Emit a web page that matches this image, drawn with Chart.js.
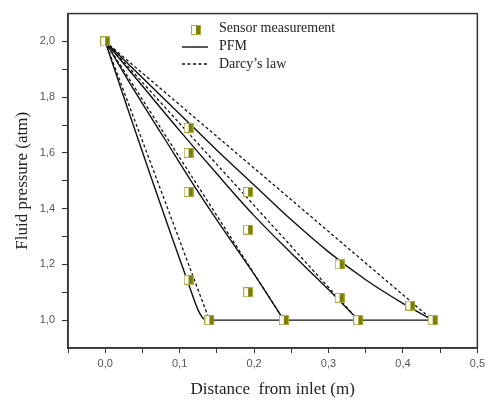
<!DOCTYPE html>
<html>
<head>
<meta charset="utf-8">
<script src="https://cdn.jsdelivr.net/npm/chart.js@4.4.0/dist/chart.umd.min.js"></script>
<style>
  body { margin: 0; background: #fff; }
</style>
</head>
<body>
<canvas id="c" width="489" height="401"></canvas>
<script>
// sensor readings (distance m, pressure atm)
var sensorDist = [0, 0.112, 0.112, 0.112, 0.112, 0.192, 0.192, 0.192, 0.315, 0.315, 0.41, 0.14, 0.24, 0.34, 0.44];
var sensorPress = [2.0, 1.69, 1.60, 1.46, 1.145, 1.46, 1.325, 1.10, 1.20, 1.08, 1.052, 1.0, 1.0, 1.0, 1.0];

// PFM curves
var pfmDist1 = [0, 0.03, 0.06, 0.09, 0.11, 0.125, 0.131, 0.137, 0.44];
var pfmPress1 = [2.0, 1.76, 1.525, 1.295, 1.145, 1.035, 1.008, 1.0, 1.0];
var pfmDist2 = [0, 0.04, 0.08, 0.12, 0.16, 0.2, 0.24];
var pfmPress2 = [2.0, 1.82, 1.65, 1.48, 1.32, 1.165, 1.0];
var pfmDist3 = [0, 0.05, 0.1, 0.15, 0.2, 0.25, 0.3, 0.34];
var pfmPress3 = [2.0, 1.84, 1.68, 1.525, 1.375, 1.24, 1.11, 1.0];
var pfmDist4 = [0, 0.05, 0.1, 0.15, 0.2, 0.25, 0.3, 0.35, 0.4, 0.44];
var pfmPress4 = [2.0, 1.87, 1.74, 1.61, 1.485, 1.36, 1.245, 1.145, 1.06, 1.0];

// Darcy's law lines
var darcyDist1 = [0, 0.14];
var darcyDist2 = [0, 0.24];
var darcyDist3 = [0, 0.34];
var darcyDist4 = [0, 0.44];
var darcyPress = [2.0, 1.0];

var xTickLabels = ['0,0', '0,1', '0,2', '0,3', '0,4', '0,5'];
var yTickLabels = ['1,0', '1,2', '1,4', '1,6', '1,8', '2,0'];

var toPoints = function(xs, ys) {
  var pts = [];
  for (var i = 0; i < xs.length; i++) {
    pts.push({x: xs[i], y: ys[i]});
  }
  return pts;
};

// half filled square marker
var marker = document.createElement('canvas');
marker.width = 10;
marker.height = 10;
var mctx = marker.getContext('2d');
mctx.fillStyle = '#fdfdf2';
mctx.fillRect(0, 0, 10, 10);
mctx.fillStyle = '#7c7e06';
mctx.fillRect(5, 0, 5, 10);
mctx.strokeStyle = '#a9ab45';
mctx.lineWidth = 1;
mctx.strokeRect(0.5, 0.5, 9, 9);

var pfmLine = function(xs, ys) {
  return {
    data: toPoints(xs, ys),
    showLine: true,
    borderColor: '#111',
    borderWidth: 1.4,
    pointRadius: 0,
    cubicInterpolationMode: 'monotone',
    order: 1
  };
};

var darcyLine = function(xs, ys) {
  return {
    data: toPoints(xs, ys),
    showLine: true,
    borderColor: '#111',
    borderWidth: 1.3,
    borderDash: [3, 2.5],
    pointRadius: 0,
    order: 2
  };
};

var boxAndLegend = {
  id: 'boxAndLegend',
  afterDraw: function(chart) {
    var ctx = chart.ctx;
    var a = chart.chartArea;
    ctx.save();
    ctx.strokeStyle = '#333';
    ctx.lineWidth = 1.5;
    ctx.strokeRect(a.left, a.top, a.right - a.left, a.bottom - a.top);

    ctx.drawImage(marker, 191, 25);
    ctx.lineWidth = 1.4;
    ctx.strokeStyle = '#111';
    ctx.beginPath();
    ctx.moveTo(182, 47);
    ctx.lineTo(208, 47);
    ctx.stroke();
    ctx.setLineDash([3, 2.5]);
    ctx.lineWidth = 1.3;
    ctx.beginPath();
    ctx.moveTo(182, 64);
    ctx.lineTo(208, 64);
    ctx.stroke();
    ctx.setLineDash([]);

    ctx.fillStyle = '#222';
    ctx.font = '14px "Liberation Serif", "Times New Roman", serif';
    ctx.textBaseline = 'middle';
    ctx.textAlign = 'left';
    ctx.fillText('Sensor measurement', 219, 28);
    ctx.fillText('PFM', 219, 46);
    ctx.fillText('Darcy\u2019s law', 219, 64);
    ctx.restore();
  }
};

var ctx = document.getElementById('c').getContext('2d');
new Chart(ctx, {
  type: 'scatter',
  data: {
    datasets: [
      {
        data: toPoints(sensorDist, sensorPress),
        pointStyle: marker,
        pointRadius: 5,
        order: 0
      },
      pfmLine(pfmDist1, pfmPress1),
      pfmLine(pfmDist2, pfmPress2),
      pfmLine(pfmDist3, pfmPress3),
      pfmLine(pfmDist4, pfmPress4),
      darcyLine(darcyDist1, darcyPress),
      darcyLine(darcyDist2, darcyPress),
      darcyLine(darcyDist3, darcyPress),
      darcyLine(darcyDist4, darcyPress)
    ]
  },
  options: {
    responsive: false,
    animation: false,
    layout: { padding: { left: 0, right: 9, top: 12, bottom: 0 } },
    plugins: {
      legend: { display: false },
      tooltip: { enabled: false }
    },
    scales: {
      x: {
        type: 'linear',
        min: -0.05,
        max: 0.5,
        afterFit: function(scale) { scale.height = 53; },
        border: { color: '#333', width: 1.5 },
        grid: { drawOnChartArea: false, tickLength: 5, color: '#333' },
        ticks: {
          stepSize: 0.05,
          autoSkip: false,
          maxRotation: 0,
          padding: 4,
          color: '#555',
          font: { family: '"Liberation Sans", Arial, sans-serif', size: 11 },
          callback: function(v) {
            var k = Math.round(v * 100);
            if (k < 0 || k % 10 !== 0) return '';
            return xTickLabels[k / 10];
          }
        },
        title: {
          display: true,
          text: 'Distance  from inlet (m)',
          color: '#222',
          font: { family: '"Liberation Serif", "Times New Roman", serif', size: 17 },
          padding: { top: 0, bottom: 1 }
        }
      },
      y: {
        type: 'linear',
        min: 0.9,
        max: 2.1,
        afterFit: function(scale) { scale.width = 68; },
        border: { color: '#333', width: 1.5 },
        grid: {
          drawOnChartArea: false,
          tickLength: 6,
          color: function(c) {
            var k = Math.round(c.tick.value * 10);
            return (k === 9 || k === 21) ? 'rgba(0,0,0,0)' : '#333';
          }
        },
        ticks: {
          stepSize: 0.1,
          autoSkip: false,
          padding: 7,
          color: '#555',
          font: { family: '"Liberation Sans", Arial, sans-serif', size: 11 },
          callback: function(v) {
            var k = Math.round(v * 10);
            if (k < 10 || k > 20 || k % 2 !== 0) return '';
            return yTickLabels[(k - 10) / 2];
          }
        },
        title: {
          display: true,
          text: 'Fluid pressure (atm)',
          color: '#222',
          font: { family: '"Liberation Serif", "Times New Roman", serif', size: 17 },
          padding: { top: 12, bottom: 0 }
        }
      }
    }
  },
  plugins: [boxAndLegend]
});
</script>
</body>
</html>
